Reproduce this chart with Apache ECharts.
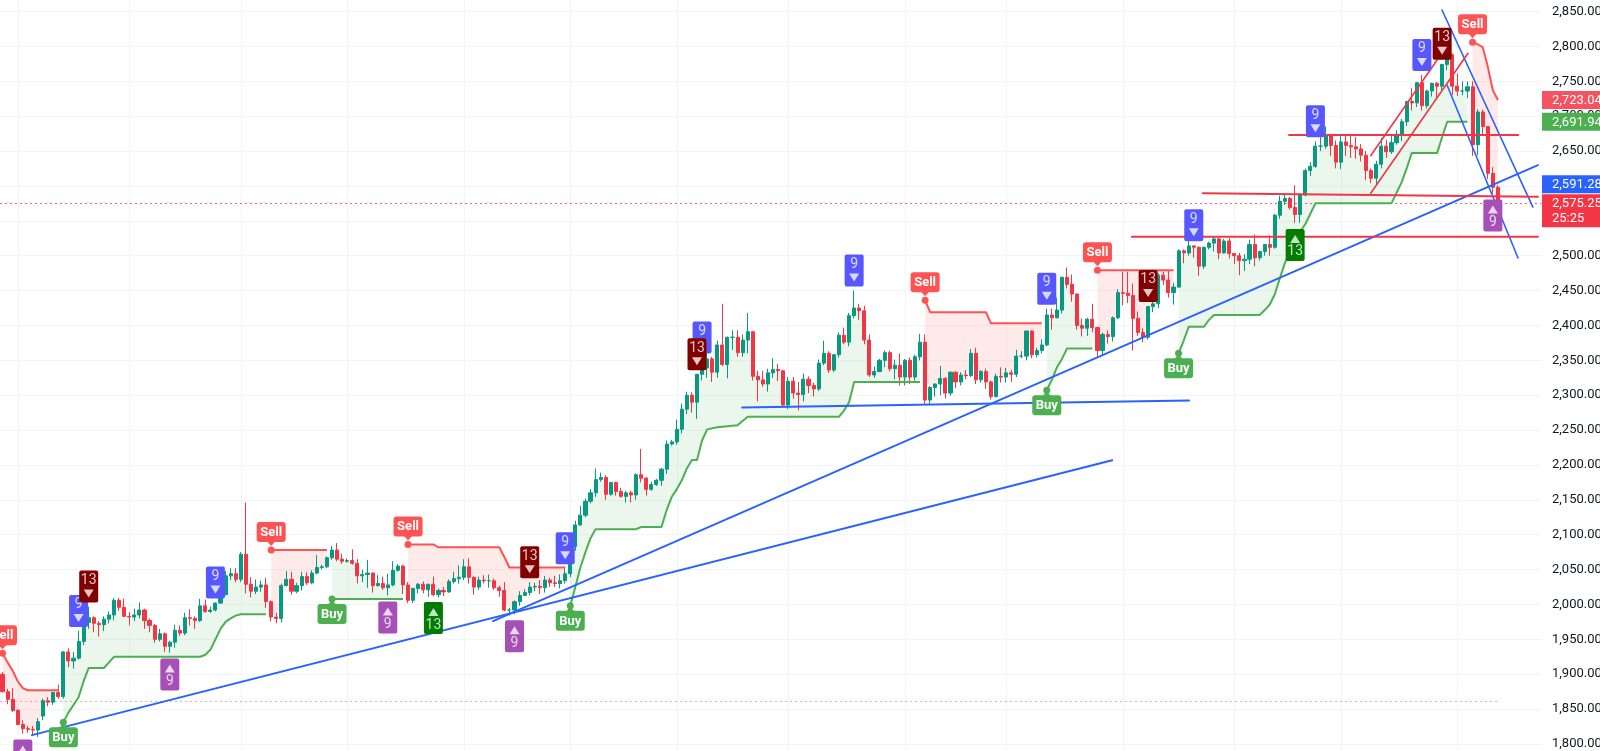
<!DOCTYPE html>
<html><head><meta charset="utf-8">
<script src="https://cdn.jsdelivr.net/npm/echarts@6.0.0/dist/echarts.min.js"></script>
<style>html,body{margin:0;padding:0;background:#fff;overflow:hidden}#c{width:1600px;height:751px}</style>
</head><body><div id="c"></div>
<script>
// ---------- DATA (daily candles, index = trading day; [open, high, low, close]) ----------
const ohlc = [
[1900,1903,1874,1875],[1875,1879,1857,1864],[1864,1880,1846,1848],[1848,1850,1827,1828],[1828,1834,1815,1822],
[1822,1826,1816,1821],[1821,1826,1813,1820],[1820,1837,1810,1832],[1840,1865,1834,1862],[1862,1867,1854,1860],
[1860,1875,1856,1874],[1874,1885,1865,1868],[1868,1933,1865,1932],[1932,1937,1910,1919],[1919,1932,1908,1923],
[1923,1962,1921,1947],[1947,1980,1942,1974],[1974,1997,1965,1981],[1981,1983,1960,1973],[1973,1976,1954,1971],
[1971,1983,1962,1979],[1979,1990,1973,1985],[1985,2009,1977,2006],[2006,2009,1991,1996],[1996,2008,1982,1983],
[1983,1989,1970,1982],[1982,1994,1976,1985],[1985,2003,1980,1992],[1992,1994,1965,1977],[1977,1980,1960,1970],
[1970,1972,1945,1950],[1950,1965,1947,1958],[1958,1960,1932,1940],[1940,1948,1931,1946],[1946,1971,1938,1963],
[1963,1970,1955,1959],[1959,1988,1956,1981],[1981,1993,1970,1980],[1980,1983,1965,1977],[1977,2008,1975,1998],
[1998,2007,1988,1990],[1990,1997,1988,1992],[1992,2003,1990,2002],[2002,2018,2001,2014],[2014,2048,2013,2041],
[2041,2052,2035,2044],[2044,2052,2032,2036],[2036,2075,2032,2072],[2072,2146,2016,2029],[2029,2039,2010,2019],
[2019,2036,2015,2025],[2025,2034,2018,2028],[2028,2038,1995,2004],[2004,2006,1976,1982],[1982,1988,1973,1980],
[1980,2030,1974,2027],[2027,2048,2026,2036],[2036,2047,2014,2019],[2019,2031,2016,2027],[2027,2047,2020,2040],
[2040,2046,2028,2031],[2031,2049,2029,2045],[2045,2071,2043,2053],[2053,2057,2050,2054],[2054,2069,2052,2067],
[2067,2084,2064,2078],[2078,2088,2062,2065],[2065,2073,2058,2062],[2062,2066,2060,2063],[2063,2079,2057,2059],
[2059,2065,2030,2041],[2041,2050,2032,2043],[2043,2064,2024,2045],[2045,2046,2017,2027],[2027,2042,2026,2030],
[2030,2040,2021,2024],[2024,2044,2013,2028],[2028,2062,2026,2049],[2049,2058,2047,2055],[2055,2057,2015,2028],
[2028,2032,2002,2006],[2006,2024,2002,2023],[2023,2031,2016,2029],[2029,2033,2016,2021],[2021,2030,2011,2029],
[2029,2040,2012,2014],[2014,2023,2010,2020],[2020,2025,2012,2018],[2018,2036,2017,2033],[2033,2047,2030,2037],
[2037,2056,2030,2039],[2039,2065,2035,2054],[2054,2066,2030,2039],[2039,2040,2014,2025],[2025,2040,2021,2035],
[2035,2042,2030,2034],[2034,2043,2024,2034],[2034,2037,2021,2024],[2024,2027,2011,2020],[2020,2032,1990,1992],
[1992,1995,1984,1992],[1992,2006,1986,2004],[2004,2019,1998,2013],[2013,2022,2012,2017],[2017,2032,2013,2025],
[2025,2031,2019,2026],[2026,2035,2015,2024],[2024,2041,2017,2035],[2035,2038,2025,2031],[2031,2041,2025,2030],
[2030,2043,2023,2034],[2034,2052,2030,2044],[2044,2088,2039,2083],[2083,2120,2077,2114],[2114,2141,2113,2128],
[2128,2152,2125,2148],[2148,2165,2145,2160],[2160,2195,2154,2179],[2179,2189,2176,2182],[2182,2185,2150,2158],
[2158,2175,2156,2175],[2175,2176,2156,2162],[2162,2167,2153,2155],[2155,2163,2146,2160],[2160,2163,2146,2157],
[2157,2188,2150,2186],[2186,2223,2175,2181],[2181,2183,2156,2165],[2165,2176,2163,2172],[2172,2180,2170,2178],
[2178,2196,2170,2194],[2194,2235,2187,2230],[2230,2236,2228,2233],[2233,2265,2229,2251],[2251,2288,2245,2280],
[2280,2305,2273,2300],[2300,2304,2275,2290],[2290,2330,2266,2330],[2330,2354,2321,2339],[2339,2365,2325,2352],
[2352,2355,2319,2333],[2333,2378,2325,2372],[2372,2431,2342,2344],[2344,2384,2324,2383],[2383,2393,2365,2383],
[2383,2393,2355,2361],[2361,2387,2355,2379],[2379,2418,2360,2391],[2391,2392,2321,2327],[2327,2335,2291,2322],
[2322,2335,2312,2316],[2316,2338,2305,2332],[2332,2353,2325,2337],[2337,2345,2320,2335],[2335,2336,2285,2286],
[2286,2326,2280,2320],[2320,2326,2295,2303],[2303,2319,2278,2301],[2301,2331,2291,2323],[2323,2327,2303,2314],
[2314,2318,2298,2309],[2309,2351,2306,2346],[2346,2378,2343,2360],[2360,2363,2332,2336],[2336,2359,2333,2358],
[2358,2390,2354,2386],[2386,2397,2373,2376],[2376,2418,2370,2414],[2414,2450,2410,2425],[2425,2431,2408,2421],
[2421,2428,2373,2379],[2379,2387,2326,2329],[2329,2341,2325,2334],[2334,2352,2333,2350],[2350,2364,2340,2361],
[2361,2364,2334,2338],[2338,2351,2323,2343],[2343,2360,2314,2326],[2326,2352,2314,2350],[2350,2354,2316,2326],
[2326,2358,2321,2355],[2355,2388,2350,2376],[2376,2387,2286,2293],[2293,2313,2287,2311],[2311,2317,2298,2316],
[2316,2342,2300,2324],[2324,2326,2295,2303],[2303,2334,2299,2333],[2333,2334,2310,2319],[2319,2333,2314,2329],
[2329,2336,2323,2328],[2328,2366,2326,2360],[2360,2368,2316,2322],[2322,2336,2318,2334],[2334,2338,2309,2319],
[2319,2321,2294,2298],[2298,2331,2297,2327],[2327,2340,2318,2326],[2326,2339,2318,2332],[2332,2336,2319,2330],
[2330,2365,2326,2356],[2356,2363,2353,2356],[2356,2392,2350,2392],[2392,2393,2353,2358],[2358,2368,2354,2364],
[2364,2380,2360,2372],[2372,2424,2370,2415],[2415,2424,2394,2411],[2411,2440,2410,2422],[2422,2470,2417,2469],
[2469,2483,2453,2459],[2459,2473,2434,2445],[2445,2446,2394,2400],[2400,2410,2384,2396],[2396,2411,2385,2409],
[2409,2431,2390,2397],[2397,2398,2353,2364],[2364,2390,2356,2387],[2387,2393,2374,2384],[2384,2413,2377,2411],
[2411,2452,2409,2447],[2447,2477,2429,2446],[2446,2477,2432,2443],[2443,2460,2364,2410],[2410,2420,2385,2390],
[2390,2396,2376,2383],[2383,2428,2380,2427],[2427,2438,2419,2431],[2431,2475,2425,2472],[2472,2477,2458,2465],
[2465,2479,2440,2447],[2447,2461,2430,2455],[2455,2509,2454,2507],[2507,2509,2489,2504],[2504,2531,2500,2514],
[2514,2515,2497,2512],[2512,2513,2471,2485],[2485,2513,2481,2512],[2512,2520,2509,2518],[2518,2528,2506,2524],
[2524,2526,2495,2504],[2504,2524,2503,2521],[2521,2525,2496,2503],[2503,2504,2488,2500],[2500,2504,2472,2493],
[2493,2502,2478,2495],[2495,2523,2488,2516],[2516,2530,2485,2497],[2497,2507,2493,2506],[2506,2517,2500,2516],
[2516,2529,2500,2512],[2512,2560,2510,2558],[2558,2586,2553,2578],[2578,2590,2573,2582],[2582,2584,2566,2569],
[2569,2601,2547,2559],[2559,2590,2547,2587],[2587,2625,2585,2622],[2622,2634,2614,2628],[2628,2664,2626,2657],
[2657,2670,2650,2657],[2657,2685,2653,2672],[2672,2674,2643,2658],[2658,2665,2625,2634],[2634,2673,2624,2663],
[2663,2672,2643,2658],[2658,2672,2640,2656],[2656,2670,2639,2653],[2653,2660,2635,2644],[2644,2650,2608,2622],
[2622,2625,2604,2611],[2611,2636,2603,2631],[2631,2669,2625,2657],[2657,2666,2640,2649],[2649,2674,2646,2662],
[2662,2680,2659,2674],[2674,2696,2664,2692],[2692,2722,2686,2721],[2721,2740,2708,2719],[2719,2749,2713,2748],
[2748,2759,2708,2715],[2715,2738,2711,2736],[2736,2748,2728,2747],[2747,2749,2724,2743],[2743,2775,2737,2774],
[2774,2790,2766,2788],[2788,2790,2730,2743],[2743,2761,2729,2736],[2736,2750,2730,2736],[2736,2750,2726,2742],
[2742,2750,2643,2659],[2659,2710,2644,2706],[2706,2709,2672,2685],[2685,2686,2610,2618],[2618,2627,2589,2598],
[2598,2601,2570,2575.25]
];

// first trading day of each month (vertical grid lines)
const monthStartIdx = [3,25,47,68,91,112,133,155,178,198,221,243,264,287];

// Supertrend segments: [bar index, level]
const stDown1 = [[0,1930],[1,1917],[2,1905],[3,1890],[4,1880],[5,1877],[11,1877]];
const stUp1 = [[12,1831],[13,1845],[14,1856],[15,1867],[16,1890],[17,1909],[20,1909],[21,1917],[22,1925],[39,1925],[40,1928],[41,1935],[42,1950],[43,1965],[44,1975],[45,1980],[46,1984],[47,1986],[52,1986]];
const stDown2 = [[53,2078],[64,2078]];
const stUp2 = [[65,2008],[79,2008]];
const stDown3 = [[80,2086],[85,2086],[86,2082],[98,2082],[99,2068],[100,2053],[111,2053]];
const stUp3 = [[112,1998],[113,2025],[114,2053],[115,2075],[116,2095],[117,2108],[125,2108],[126,2111],[130,2111],[131,2135],[132,2154],[133,2165],[134,2178],[135,2195],[136,2207],[137,2207],[138,2235],[139,2251],[141,2254],[145,2257],[146,2263],[147,2269],[165,2269],[166,2278],[167,2290],[168,2319],[181,2319]];
const stDown4 = [[182,2436],[183,2419],[194,2419],[195,2403],[205,2403]];
const stUp4 = [[206,2307],[207,2322],[208,2340],[209,2352],[210,2367],[215,2367]];
const stDown5 = [[216,2479],[231,2479]];
const stUp5 = [[232,2360],[233,2378],[234,2398],[237,2398],[238,2408],[239,2415],[248,2415],[249,2422],[250,2430],[251,2445],[252,2468],[253,2490],[254,2505],[255,2520],[256,2535],[257,2545],[258,2560],[259,2575],[274,2575],[275,2590],[276,2605],[277,2625],[278,2647],[283,2647],[284,2670],[285,2692],[289,2691.94]];
const stDown6 = [[290,2806],[291,2803],[292,2799],[293,2771],[294,2737],[295,2723.04]];
const stSegments = [
  ['down', stDown1], ['up', stUp1], ['down', stDown2], ['up', stUp2], ['down', stDown3], ['up', stUp3],
  ['down', stDown4], ['up', stUp4], ['down', stDown5], ['up', stUp5], ['down', stDown6]
];

// TD Sequential marks
const tdSellSetupIdx = [15,42,111,138,168,206,235,259,280];   // blue "9" above
const tdSellCountIdx = [17,104,137,226,284];                  // dark red "13" above
const tdBuySetupIdx = [4,33,76,101,294];                      // purple "9" below
const tdBuyCountIdx = [85,255];                               // green "13" below

// Drawn trend lines: [[bar, price],[bar, price]]
const blueLines = [
  [[5.81,1812.7],[218.9,2206.7]],
  [[96.76,1976.2],[302.9,2629.9]],
  [[145.9,2282.3],[234.06,2292.3]]
];
const blueThinLines = [
  [[283.97,2852.2],[301.9,2569.7]],
  [[284.96,2744.6],[298.97,2496.6]]
];
const redLevelLines = [
  [[253.8,2673],[299,2673]],
  [[236.8,2589.4],[302.9,2584.5]],
  [[222.8,2527.1],[302.9,2527.1]]
];
const redChannelLines = [
  [[269.9,2643.3],[283,2780.5]],
  [[269.9,2589.4],[289.1,2790.1]]
];
const prevLevel = 1861.9;
const lastPrice = 2575.25;
const countdown = '25:25';
const priceLabelValues = [2723.04, 2691.94, 2591.28, 2575.25];
const priceLabelColors = ['#f7525f', '#4caf50', '#2962ff', '#f23645'];

// ---------- CHART ----------
const SLOTS = 304;
const cats = Array.from({length: SLOTS}, (_, i) => String(i));
const FONT = 'Roboto, "Noto Sans", "DejaVu Sans", sans-serif';
const fmt = v => Number(v).toFixed(2).replace(/\B(?=(\d{3})+(?!\d))/g, ',');
const UP = '#089981', DOWN = '#f23645';
const ST_UP = '#4caf50', ST_DOWN = '#ff5252';
const GRID = '#f3f4f7';

const chart = echarts.init(document.getElementById('c'), null, {renderer: 'canvas'});

function drawLinesSeries(list, color, width, z) {
  return {
    type: 'custom', xAxisIndex: 1, yAxisIndex: 0, z: z, silent: true,
    data: list.map(l => [l[0][0], l[0][1], l[1][0], l[1][1]]),
    renderItem: function (params, api) {
      const l = list[params.dataIndex];
      const a = api.coord(l[0]), b = api.coord(l[1]);
      return {type: 'line', shape: {x1: a[0], y1: a[1], x2: b[0], y2: b[1]},
        style: {stroke: color, lineWidth: width, lineCap: 'round'}};
    }
  };
}

const tdList = [];
tdSellSetupIdx.forEach(i => tdList.push([i, '9', true, '#5757ff']));
tdBuySetupIdx.forEach(i => tdList.push([i, '9', false, '#a64fb6']));
tdSellCountIdx.forEach(i => tdList.push([i, '13', true, '#800000']));
tdBuyCountIdx.forEach(i => tdList.push([i, '13', false, '#007c00']));

const option = {
  animation: false,
  backgroundColor: '#ffffff',
  grid: {left: 0, right: 59, top: 11.5, bottom: 7, containLabel: false, outerBoundsMode: 'none'},
  xAxis: [
    {type: 'category', data: cats, boundaryGap: true, axisLine: {show: false}, axisTick: {show: false},
     axisLabel: {show: false}, splitLine: {show: false}},
    {type: 'value', min: -0.5, max: SLOTS - 0.5, show: false}
  ],
  yAxis: [{
    type: 'value', position: 'right', min: 1800, max: 2850, interval: 50, scale: true,
    axisLine: {show: false}, axisTick: {show: false},
    axisLabel: {margin: 11, color: '#131722', fontSize: 13, fontFamily: FONT, formatter: fmt},
    splitLine: {show: true, lineStyle: {color: GRID, width: 1}}
  }],
  series: [
    // vertical month grid lines
    {
      type: 'custom', xAxisIndex: 1, yAxisIndex: 0, z: 0, silent: true,
      data: monthStartIdx.map(i => [i, 2000]),
      renderItem: function (params, api) {
        const x = Math.round(api.coord([monthStartIdx[params.dataIndex], 2000])[0]) + 0.5;
        const cs = params.coordSys;
        return {type: 'line', shape: {x1: x, y1: 0, x2: x, y2: cs.y + cs.height + 10},
          style: {stroke: GRID, lineWidth: 1}};
      }
    },
    // supertrend fills
    {
      type: 'custom', xAxisIndex: 1, yAxisIndex: 0, z: 1, silent: true,
      data: stSegments.map(s => [s[1][0][0], s[1][0][1]]),
      renderItem: function (params, api) {
        const s = stSegments[params.dataIndex];
        const pts = s[1].map(p => api.coord(p));
        const a = s[1][0][0], b = s[1][s[1].length - 1][0];
        for (let i = b; i >= a; i--) {
          const d = ohlc[i];
          pts.push(api.coord([i, (d[0] + d[3]) / 2]));
        }
        return {type: 'polygon', shape: {points: pts},
          style: {fill: s[0] === 'up' ? 'rgba(76,175,80,0.11)' : 'rgba(255,82,82,0.12)'}};
      }
    },
    // previous level dotted line and last price dotted line
    {
      type: 'custom', xAxisIndex: 1, yAxisIndex: 0, z: 1, silent: true,
      data: [[0, prevLevel], [0, lastPrice]],
      renderItem: function (params, api) {
        const cs = params.coordSys;
        if (params.dataIndex === 0) {
          const a = api.coord([-0.5, prevLevel]), b = api.coord([ohlc.length - 1, prevLevel]);
          const y = Math.round(a[1]) + 0.5;
          return {type: 'line', shape: {x1: a[0], y1: y, x2: b[0], y2: y},
            style: {stroke: '#f08a93', lineWidth: 1, lineDash: [2, 3], opacity: 0.75}};
        }
        const y = Math.round(api.coord([0, lastPrice])[1]) + 0.5;
        return {type: 'line', shape: {x1: cs.x, y1: y, x2: cs.x + cs.width, y2: y},
          style: {stroke: '#f23645', lineWidth: 1, lineDash: [2, 3], opacity: 0.8}};
      }
    },
    // candles
    {
      type: 'candlestick', xAxisIndex: 0, yAxisIndex: 0, z: 2, barWidth: 3.6,
      data: ohlc.map(d => [d[0], d[3], d[2], d[1]]),
      itemStyle: {color: UP, color0: DOWN, borderColor: UP, borderColor0: DOWN, borderWidth: 1}
    },
    // supertrend lines
    {
      type: 'custom', xAxisIndex: 1, yAxisIndex: 0, z: 3, silent: true,
      data: stSegments.map(s => [s[1][0][0], s[1][0][1]]),
      renderItem: function (params, api) {
        const s = stSegments[params.dataIndex];
        return {type: 'polyline', shape: {points: s[1].map(p => api.coord(p))},
          style: {stroke: s[0] === 'up' ? ST_UP : ST_DOWN, lineWidth: 2, fill: null, lineJoin: 'round'}};
      }
    },
    drawLinesSeries(blueLines, '#2962ff', 2, 4),
    drawLinesSeries(blueThinLines, '#2962ff', 1.6, 4),
    drawLinesSeries(redLevelLines, '#f23645', 2, 4),
    drawLinesSeries(redChannelLines, '#f23645', 1.6, 4),
    // TD sequential marks
    {
      type: 'custom', xAxisIndex: 1, yAxisIndex: 0, z: 5, silent: true,
      data: tdList.map(t => [t[0], ohlc[t[0]][1]]),
      renderItem: function (params, api) {
        const t = tdList[params.dataIndex];
        const d = ohlc[t[0]];
        const above = t[2];
        const p = api.coord([t[0], above ? d[1] : d[2]]);
        const w = 19, h = 32, x = p[0];
        const top = above ? p[1] - 4 - h : p[1] + 6;
        const tc = 'rgba(255,255,255,0.78)';
        const digitY = above ? top + 10 : top + 23;
        const triY = above ? top + 23 : top + 10;
        const tri = above ? [[x - 5, triY - 4], [x + 5, triY - 4], [x, triY + 4]]
                          : [[x - 5, triY + 4], [x + 5, triY + 4], [x, triY - 4]];
        return {type: 'group', children: [
          {type: 'rect', shape: {x: x - w / 2, y: top, width: w, height: h, r: 2}, style: {fill: t[3]}},
          {type: 'text', style: {text: t[1], x: x, y: digitY, align: 'center', verticalAlign: 'middle',
            fill: tc, fontSize: 14, fontFamily: FONT}},
          {type: 'polygon', shape: {points: tri}, style: {fill: tc}}
        ]};
      }
    },
    // Buy / Sell labels
    {
      type: 'custom', xAxisIndex: 1, yAxisIndex: 0, z: 6, silent: true,
      data: stSegments.map(s => [s[1][0][0], s[1][0][1]]),
      renderItem: function (params, api) {
        const s = stSegments[params.dataIndex];
        const p = api.coord(s[1][0]);
        const up = s[0] === 'up';
        const col = up ? ST_UP : ST_DOWN;
        const x = p[0], y = p[1];
        const w = 29, h = 20;
        const top = up ? y + 5 : y - 8 - h;
        const ptr = up ? [[x - 4, y + 5.5], [x + 4, y + 5.5], [x, y + 1]]
                       : [[x - 4, y - 8.5], [x + 4, y - 8.5], [x, y - 4]];
        return {type: 'group', children: [
          {type: 'circle', shape: {cx: x, cy: y, r: 3.5}, style: {fill: col}},
          {type: 'polygon', shape: {points: ptr}, style: {fill: col}},
          {type: 'rect', shape: {x: x - w / 2, y: top, width: w, height: h, r: 3}, style: {fill: col}},
          {type: 'text', style: {text: up ? 'Buy' : 'Sell', x: x, y: top + h / 2 + 0.5, align: 'center',
            verticalAlign: 'middle', fill: '#ffffff', fontSize: 13, fontWeight: 'bold', fontFamily: FONT}}
        ]};
      }
    }
  ]
};
chart.setOption(option);

// right-side price labels (placed from the y scale, pushed apart when overlapping)
(function () {
  const right = 1600 - 59;
  const items = priceLabelValues.map((v, k) => ({
    v: v, color: priceLabelColors[k], extra: v === lastPrice ? countdown : null,
    y: chart.convertToPixel({yAxisIndex: 0}, v)
  }));
  items.sort((a, b) => b.y - a.y);
  let limit = Infinity;
  items.forEach(it => {
    it.h = it.extra ? 33 : 18;
    it.top = it.y - 9;
    if (it.top + it.h > limit - 1) it.top = limit - 1 - it.h;
    limit = it.top;
  });
  const g = [];
  items.forEach(it => {
    g.push({type: 'rect', z: 100, shape: {x: right + 1, y: it.top, width: 70, height: it.h},
      style: {fill: it.color}});
    g.push({type: 'text', z: 101, style: {text: fmt(it.v), x: right + 11, y: it.top + 9.5,
      verticalAlign: 'middle', fill: '#ffffff', fontSize: 13, fontFamily: FONT}});
    if (it.extra) g.push({type: 'text', z: 101, style: {text: it.extra, x: right + 11, y: it.top + 25,
      verticalAlign: 'middle', fill: '#ffffff', fontSize: 13, fontFamily: FONT}});
  });
  chart.setOption({graphic: g});
})();
</script>
</body></html>
